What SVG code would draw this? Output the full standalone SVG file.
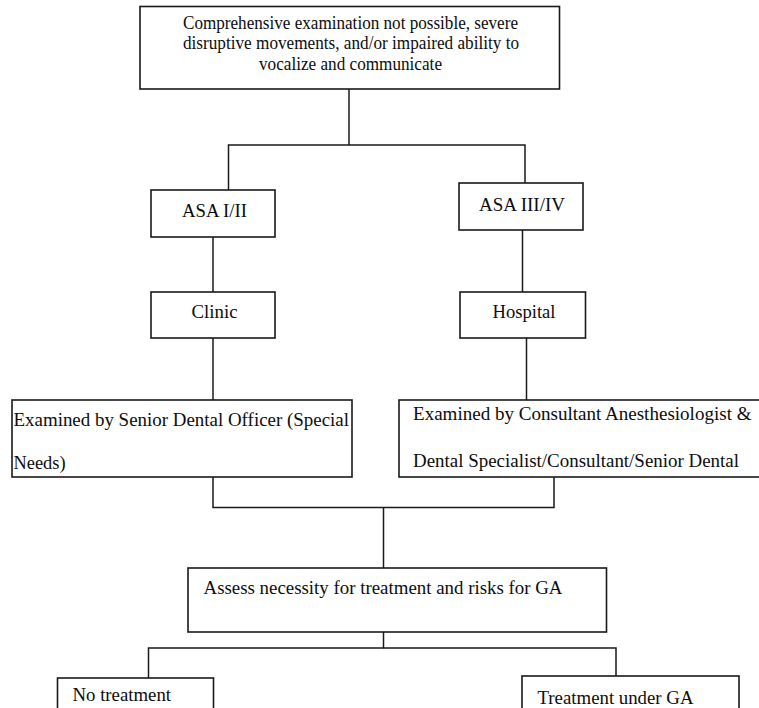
<svg xmlns="http://www.w3.org/2000/svg" width="759" height="708" viewBox="0 0 759 708">
<style>
.box{fill:#fff;stroke:#1a1a1a;stroke-width:1.6}
.ln{fill:none;stroke:#1a1a1a;stroke-width:1.5}
text{font-family:"Liberation Serif","Times New Roman",serif;font-size:19px;fill:#0d0d0d}
</style>
<rect width="759" height="708" fill="#fff"/>
<g id="connectors">
<polyline class="ln" points="349,89 349,145"/>
<polyline class="ln" points="228.5,190 228.5,145 525,145 525,183"/>
<polyline class="ln" points="213,237 213,292"/>
<polyline class="ln" points="522.5,230 522.5,292"/>
<polyline class="ln" points="213,338 213,400"/>
<polyline class="ln" points="526.5,338 526.5,400"/>
<polyline class="ln" points="213,477 213,507.5 554,507.5 554,477"/>
<polyline class="ln" points="383.5,507.5 383.5,568"/>
<polyline class="ln" points="383.5,632 383.5,648 148.5,648 148.5,678"/>
<polyline class="ln" points="383.5,648 616,648 616,676"/>
</g>
<g id="n-top">
<rect class="box" x="140" y="6.5" width="419.5" height="82.5"/>
<text x="183" y="28.5" textLength="335" lengthAdjust="spacingAndGlyphs">Comprehensive examination not possible, severe</text>
<text x="183" y="49" textLength="336" lengthAdjust="spacingAndGlyphs">disruptive movements, and/or impaired ability to</text>
<text x="259" y="70" textLength="183" lengthAdjust="spacingAndGlyphs">vocalize and communicate</text>
</g>
<g id="n-asa12">
<rect class="box" x="151" y="190" width="124" height="47"/>
<text x="182" y="217" textLength="65" lengthAdjust="spacingAndGlyphs">ASA I/II</text>
</g>
<g id="n-asa34">
<rect class="box" x="459" y="183" width="124" height="47"/>
<text x="479" y="210.5" textLength="86" lengthAdjust="spacingAndGlyphs">ASA III/IV</text>
</g>
<g id="n-clinic">
<rect class="box" x="151" y="292" width="124" height="46"/>
<text x="191.5" y="318" textLength="46" lengthAdjust="spacingAndGlyphs">Clinic</text>
</g>
<g id="n-hospital">
<rect class="box" x="460" y="292" width="125.5" height="46"/>
<text x="492.5" y="318" textLength="63" lengthAdjust="spacingAndGlyphs">Hospital</text>
</g>
<g id="n-senior">
<rect class="box" x="12" y="400" width="340" height="77"/>
<text x="13.5" y="425.5" textLength="335.5" lengthAdjust="spacingAndGlyphs">Examined by Senior Dental Officer (Special</text>
<text x="13.5" y="469" textLength="52" lengthAdjust="spacingAndGlyphs">Needs)</text>
</g>
<g id="n-consultant">
<rect class="box" x="399" y="400" width="362" height="77"/>
<text x="413" y="419.5" textLength="338.5" lengthAdjust="spacingAndGlyphs">Examined by Consultant Anesthesiologist &amp;</text>
<text x="413" y="467" textLength="326" lengthAdjust="spacingAndGlyphs">Dental Specialist/Consultant/Senior Dental</text>
</g>
<g id="n-assess">
<rect class="box" x="188" y="568" width="418.5" height="64"/>
<text x="203.5" y="594" textLength="359" lengthAdjust="spacingAndGlyphs">Assess necessity for treatment and risks for GA</text>
</g>
<g id="n-notreat">
<rect class="box" x="57.5" y="678" width="156" height="40"/>
<text x="72.5" y="700.5" textLength="98.5" lengthAdjust="spacingAndGlyphs">No treatment</text>
</g>
<g id="n-treatga">
<rect class="box" x="522" y="676" width="217" height="40"/>
<text x="537.5" y="704" textLength="156" lengthAdjust="spacingAndGlyphs">Treatment under GA</text>
</g>
</svg>
